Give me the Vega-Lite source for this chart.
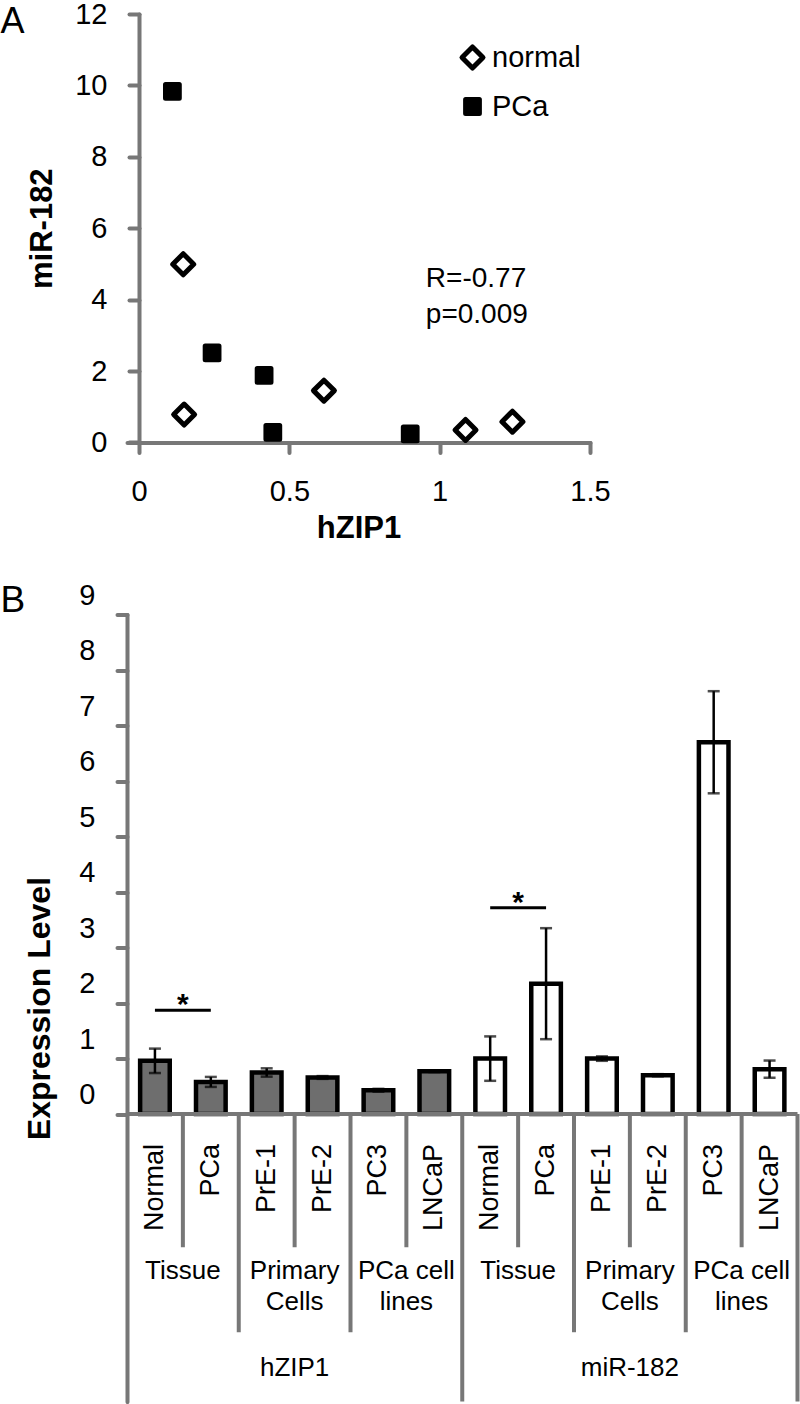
{
  "$schema": "https://vega.github.io/schema/vega-lite/v6.json",
  "padding": 0,
  "background": "white",
  "spacing": 36.6,
  "config": {
    "font": "Liberation Sans",
    "view": {"stroke": null},
    "axis": {
      "grid": false,
      "domainColor": "#777777",
      "domainWidth": 4,
      "domainCap": "round",
      "tickColor": "#777777",
      "tickWidth": 4,
      "tickCap": "round",
      "tickSize": 10,
      "labelColor": "black",
      "labelFontSize": 29,
      "labelFont": "Liberation Sans",
      "titleColor": "black",
      "titleFont": "Liberation Sans",
      "titleFontWeight": "bold",
      "titleFontSize": 31
    },
    "legend": {
      "orient": "none", "legendX": 331, "legendY": 29, "title": null, "labelFontSize": 29, "labelColor": "black", "rowPadding": 19, "labelOffset": 5, "padding": 0,
      "symbolStrokeColor": "black", "symbolStrokeWidth": 5, "symbolOpacity": 1
    }
  },
  "datasets": {
    "scatter": [
      {"hZIP1": 0.147, "miR182": 4.99, "type": "normal"},
      {"hZIP1": 0.150, "miR182": 0.78, "type": "normal"},
      {"hZIP1": 0.615, "miR182": 1.45, "type": "normal"},
      {"hZIP1": 1.086, "miR182": 0.35, "type": "normal"},
      {"hZIP1": 1.242, "miR182": 0.58, "type": "normal"},
      {"hZIP1": 0.111, "miR182": 9.83, "type": "PCa"},
      {"hZIP1": 0.243, "miR182": 2.51, "type": "PCa"},
      {"hZIP1": 0.416, "miR182": 1.88, "type": "PCa"},
      {"hZIP1": 0.445, "miR182": 0.28, "type": "PCa"},
      {"hZIP1": 0.902, "miR182": 0.24, "type": "PCa"}
    ],
    "annot": [
      {"hZIP1": 0.954, "miR182": 4.36, "label": "R=-0.77"},
      {"hZIP1": 0.954, "miR182": 3.35, "label": "p=0.009"}
    ],
    "bars": [
      {"key": "hZIP1|Normal", "gene": "hZIP1", "sample": "Normal", "value": 0.96, "err": 0.22},
      {"key": "hZIP1|PCa", "gene": "hZIP1", "sample": "PCa", "value": 0.58, "err": 0.09},
      {"key": "hZIP1|PrE-1", "gene": "hZIP1", "sample": "PrE-1", "value": 0.75, "err": 0.075},
      {"key": "hZIP1|PrE-2", "gene": "hZIP1", "sample": "PrE-2", "value": 0.66, "err": 0.025},
      {"key": "hZIP1|PC3", "gene": "hZIP1", "sample": "PC3", "value": 0.43, "err": 0.025},
      {"key": "hZIP1|LNCaP", "gene": "hZIP1", "sample": "LNCaP", "value": 0.77, "err": 0.012},
      {"key": "miR-182|Normal", "gene": "miR-182", "sample": "Normal", "value": 1.0, "err": 0.40},
      {"key": "miR-182|PCa", "gene": "miR-182", "sample": "PCa", "value": 2.35, "err": 1.0},
      {"key": "miR-182|PrE-1", "gene": "miR-182", "sample": "PrE-1", "value": 1.0, "err": 0.04},
      {"key": "miR-182|PrE-2", "gene": "miR-182", "sample": "PrE-2", "value": 0.70, "err": 0.02},
      {"key": "miR-182|PC3", "gene": "miR-182", "sample": "PC3", "value": 6.70, "err": 0.92},
      {"key": "miR-182|LNCaP", "gene": "miR-182", "sample": "LNCaP", "value": 0.81, "err": 0.155}
    ],
    "seps": [
      {"key": "hZIP1|PCa", "level": "sample"},
      {"key": "hZIP1|PrE-1", "level": "group"},
      {"key": "hZIP1|PrE-2", "level": "sample"},
      {"key": "hZIP1|PC3", "level": "group"},
      {"key": "hZIP1|LNCaP", "level": "sample"},
      {"key": "miR-182|Normal", "level": "gene"},
      {"key": "miR-182|PCa", "level": "sample"},
      {"key": "miR-182|PrE-1", "level": "group"},
      {"key": "miR-182|PrE-2", "level": "sample"},
      {"key": "miR-182|PC3", "level": "group"},
      {"key": "miR-182|LNCaP", "level": "sample"}
    ],
    "edge": [{"key": "miR-182|LNCaP"}],
    "groups": [
      {"key": "hZIP1|PCa", "label": "Tissue"},
      {"key": "hZIP1|PrE-2", "label": "Primary\nCells"},
      {"key": "hZIP1|LNCaP", "label": "PCa cell\nlines"},
      {"key": "miR-182|PCa", "label": "Tissue"},
      {"key": "miR-182|PrE-2", "label": "Primary\nCells"},
      {"key": "miR-182|LNCaP", "label": "PCa cell\nlines"}
    ],
    "genes": [
      {"key": "hZIP1|PrE-2", "label": "hZIP1"},
      {"key": "miR-182|PrE-2", "label": "miR-182"}
    ],
    "sig": [
      {"from": "hZIP1|Normal", "key": "hZIP1|PCa", "level": 1.87},
      {"from": "miR-182|Normal", "key": "miR-182|PCa", "level": 3.72}
    ]
  },
  "vconcat": [
    {
      "width": 463,
      "height": 428.4,
      "title": {"text": "A", "anchor": "start", "frame": "group", "dx": -126.5, "offset": -68.7, "baseline": "alphabetic", "fontSize": 36, "fontWeight": "normal", "color": "black", "font": "Liberation Sans"},
      "layer": [
        {
          "data": {"name": "scatter"},
          "mark": {"type": "point", "filled": true, "stroke": "black", "strokeWidth": 5, "strokeJoin": "round", "opacity": 1},
          "encoding": {
            "x": {"field": "hZIP1", "type": "quantitative",
                  "scale": {"domain": [-0.04, 1.5], "nice": false, "zero": false},
                  "axis": {"values": [0, 0.5, 1, 1.5], "format": "~g", "title": "hZIP1", "labelPadding": 25, "titlePadding": 7, "labelFlush": false}},
            "y": {"field": "miR182", "type": "quantitative",
                  "scale": {"domain": [0, 12], "nice": false, "zero": false},
                  "axis": {"values": [0, 2, 4, 6, 8, 10, 12], "title": "miR-182", "offset": -12, "labelPadding": 22, "titlePadding": 16}},
            "shape": {"field": "type", "type": "nominal",
                      "scale": {"domain": ["normal", "PCa"], "range": ["diamond", "square"]},
                      "legend": {"symbolStrokeWidth": 5, "symbolStrokeColor": "black", "encode": {"symbols": {"update": {"stroke": {"value": "black"}, "strokeWidth": {"value": 5}, "strokeJoin": {"value": "round"}, "opacity": {"value": 1}}}}}},
            "fill": {"field": "type", "type": "nominal",
                     "scale": {"domain": ["normal", "PCa"], "range": ["white", "black"]},
                     "legend": {"symbolStrokeWidth": 5, "symbolStrokeColor": "black", "encode": {"symbols": {"update": {"stroke": {"value": "black"}, "strokeWidth": {"value": 5}, "strokeJoin": {"value": "round"}, "opacity": {"value": 1}}}}}},
            "size": {"field": "type", "type": "nominal",
                     "scale": {"domain": ["normal", "PCa"], "range": [440, 190]},
                     "legend": {"symbolStrokeWidth": 5, "symbolStrokeColor": "black", "encode": {"symbols": {"update": {"stroke": {"value": "black"}, "strokeWidth": {"value": 5}, "strokeJoin": {"value": "round"}, "opacity": {"value": 1}}}}}}
          }
        },
        {
          "data": {"name": "annot"},
          "mark": {"type": "text", "align": "left", "baseline": "alphabetic", "fontSize": 28, "color": "black"},
          "encoding": {
            "x": {"field": "hZIP1", "type": "quantitative"},
            "y": {"field": "miR182", "type": "quantitative"},
            "text": {"field": "label"}
          }
        }
      ]
    },
    {
      "width": 670.5,
      "height": 787,
      "title": {"text": "B", "anchor": "start", "frame": "group", "dx": -126.5, "offset": -68, "baseline": "alphabetic", "fontSize": 37, "fontWeight": "normal", "color": "black", "font": "Liberation Sans"},
      "layer": [
        {
          "data": {"name": "bars"},
          "mark": {"type": "bar", "width": {"band": 0.53}, "stroke": "black", "strokeWidth": 4.5, "opacity": 1},
          "encoding": {
            "x": {"field": "key", "type": "nominal", "sort": null,
                  "scale": {"domain": ["hZIP1|Normal", "hZIP1|PCa", "hZIP1|PrE-1", "hZIP1|PrE-2", "hZIP1|PC3", "hZIP1|LNCaP", "miR-182|Normal", "miR-182|PCa", "miR-182|PrE-1", "miR-182|PrE-2", "miR-182|PC3", "miR-182|LNCaP"], "padding": 0},
                  "axis": null},
            "y": {"field": "value", "type": "quantitative", "title": "Expression Level",
                  "scale": {"domain": [-5.18, 9], "nice": false, "zero": false},
                  "axis": {"values": [0, 1, 2, 3, 4, 5, 6, 7, 8, 9], "title": "Expression Level", "labelOffset": -19.5, "labelPadding": 22, "titlePadding": 22, "titleFontSize": 32}},
            "y2": {"datum": 0},
            "color": {"field": "gene", "type": "nominal", "scale": {"domain": ["hZIP1", "miR-182"], "range": ["#6e6e6e", "white"]}, "legend": null}
          }
        },
        {
          "data": {"values": [{}]},
          "mark": {"type": "rule", "color": "#777777", "strokeWidth": 4},
          "encoding": {"y": {"datum": 0}}
        },
        {
          "data": {"name": "bars"},
          "mark": {"type": "errorbar", "color": "black", "ticks": {"size": 12, "thickness": 2.5, "color": "black"}, "rule": {"strokeWidth": 2.5, "color": "black"}},
          "encoding": {
            "x": {"field": "key", "type": "nominal", "sort": null},
            "y": {"field": "value", "type": "quantitative", "title": "Expression Level"},
            "yError": {"field": "err"}
          }
        },
        {
          "data": {"name": "sig"},
          "mark": {"type": "rule", "strokeWidth": 3, "color": "black"},
          "encoding": {
            "x": {"field": "from", "type": "nominal", "sort": null},
            "x2": {"field": "key"},
            "y": {"field": "level", "type": "quantitative", "title": "Expression Level"}
          }
        },
        {
          "data": {"name": "sig"},
          "mark": {"type": "text", "text": "*", "fontSize": 30, "fontWeight": "bold", "align": "center", "baseline": "alphabetic", "dy": 4, "color": "black"},
          "encoding": {
            "x": {"field": "key", "type": "nominal", "sort": null, "bandPosition": 0},
            "y": {"field": "level", "type": "quantitative", "title": "Expression Level"}
          }
        },
        {
          "data": {"name": "seps"},
          "transform": [{"filter": "datum.level === 'sample'"}],
          "mark": {"type": "rule", "color": "#777777", "strokeWidth": 4},
          "encoding": {
            "x": {"field": "key", "type": "nominal", "sort": null, "bandPosition": 0},
            "y": {"datum": 0},
            "y2": {"datum": -2.4}
          }
        },
        {
          "data": {"name": "seps"},
          "transform": [{"filter": "datum.level === 'group'"}],
          "mark": {"type": "rule", "color": "#777777", "strokeWidth": 4},
          "encoding": {
            "x": {"field": "key", "type": "nominal", "sort": null, "bandPosition": 0},
            "y": {"datum": 0},
            "y2": {"datum": -3.93}
          }
        },
        {
          "data": {"name": "seps"},
          "transform": [{"filter": "datum.level === 'gene'"}],
          "mark": {"type": "rule", "color": "#777777", "strokeWidth": 4},
          "encoding": {
            "x": {"field": "key", "type": "nominal", "sort": null, "bandPosition": 0},
            "y": {"datum": 0},
            "y2": {"datum": -5.18}
          }
        },
        {
          "data": {"name": "edge"},
          "mark": {"type": "rule", "color": "#777777", "strokeWidth": 4},
          "encoding": {
            "x": {"field": "key", "type": "nominal", "sort": null, "bandPosition": 1},
            "y": {"datum": 0},
            "y2": {"datum": -5.18}
          }
        },
        {
          "data": {"name": "bars"},
          "mark": {"type": "text", "angle": 270, "align": "right", "baseline": "middle", "fontSize": 27, "color": "black"},
          "encoding": {
            "x": {"field": "key", "type": "nominal", "sort": null},
            "y": {"datum": -0.54},
            "text": {"field": "sample"}
          }
        },
        {
          "data": {"name": "groups"},
          "mark": {"type": "text", "align": "center", "baseline": "alphabetic", "fontSize": 26, "lineBreak": "\n", "lineHeight": 31, "color": "black"},
          "encoding": {
            "x": {"field": "key", "type": "nominal", "sort": null, "bandPosition": 0},
            "y": {"datum": -2.98},
            "text": {"field": "label"}
          }
        },
        {
          "data": {"name": "genes"},
          "mark": {"type": "text", "align": "center", "baseline": "alphabetic", "fontSize": 26, "color": "black"},
          "encoding": {
            "x": {"field": "key", "type": "nominal", "sort": null, "bandPosition": 0},
            "y": {"datum": -4.71},
            "text": {"field": "label"}
          }
        }
      ]
    }
  ]
}
